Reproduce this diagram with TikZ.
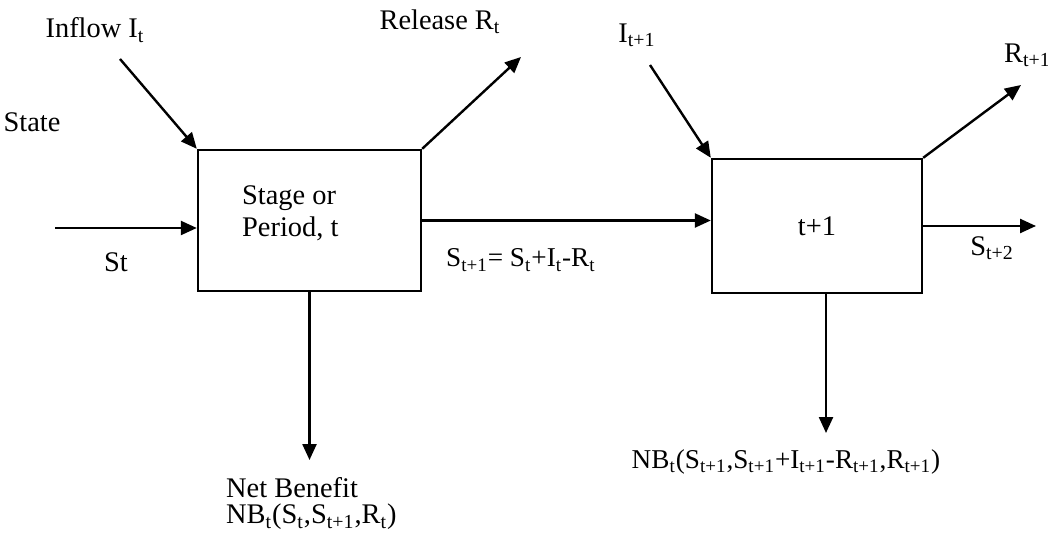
\documentclass[tikz,border=0pt]{standalone}
\usepackage{fontspec}
\setmainfont{Liberation Serif}
\usetikzlibrary{arrows.meta, positioning, calc}
\definecolor{cink}{HTML}{000000}
\tikzset{
  every picture/.style={font=\fontsize{14.2}{16}\selectfont, line width=1.2pt},
  box/.style 2 args={draw=cink, minimum width=#1, minimum height=#2, inner sep=0pt},
  arrow/.style={-{Triangle[length=8pt, width=7pt]}, draw=cink, line width=1.2pt},
  txt/.style={inner sep=0pt, text=cink},
}
\begin{document}
\begin{tikzpicture}[x=0.5pt, y=-0.5pt]
  \useasboundingbox (0,0) rectangle (1048,539);
  % ---- stage t
  \node[box={111.5pt}{70.5pt}] (stage) at (309.5,220.5) {};
  \node[txt, anchor=west, align=left] (stagetext) at (241,213) {Stage or\\Period, t};
  \node[txt] (state) at (32,122) {State};
  \node[txt] (inflow) at (95,30) {Inflow I\textsubscript{t}};
  \node[txt] (release) at (440,22) {Release R\textsubscript{t}};
  \node[txt] (st) at (116,262) {St};
  \coordinate (inflowstart) at (120,59);
  \coordinate (releaseend) at (521,57);
  \coordinate (stin) at (55,228);
  \draw[arrow] (inflowstart) -- (stage.north west);
  \draw[arrow] (stage.north east) -- (releaseend);
  \draw[arrow] (stin) -- (stin -| stage.west);
  % ---- stage t+1
  \node[box={105pt}{67pt}, txt] (next) at (817,226) {t+1};
  \node[txt, anchor=west, font=\fontsize{13.6}{16}\selectfont] (transition) at (445,260) {S\textsubscript{t+1}= S\textsubscript{t}+I\textsubscript{t}-R\textsubscript{t}};
  \draw[arrow] (stage.east) -- (stage.east -| next.west);
  \node[txt] (inflownext) at (637,35) {I\textsubscript{t+1}};
  \coordinate (inflownextstart) at (650,65);
  \draw[arrow] (inflownextstart) -- (next.north west);
  \node[txt, anchor=west] (releasenext) at (1003,55) {R\textsubscript{t+1}};
  \coordinate (releasenextend) at (1021,85);
  \draw[arrow] (next.north east) -- (releasenextend);
  \node[txt] (snext) at (992,248) {S\textsubscript{t+2}};
  \coordinate (snextend) at (1036,226);
  \draw[arrow] (next.east) -- (snextend);
  % ---- net benefits
  \coordinate (nbend) at (309.5,460);
  \draw[arrow] (stage.south) -- (nbend);
  \node[txt, anchor=west, align=left, font=\fontsize{14.2}{13}\selectfont] (nb) at (225,504) {Net Benefit\\NB\textsubscript{t}(S\textsubscript{t},S\textsubscript{t+1},R\textsubscript{t})};
  \coordinate (nbnextend) at (826,433);
  \draw[arrow] (nbnextend |- next.south) -- (nbnextend);
  \node[txt, font=\fontsize{13.6}{16}\selectfont] (nbnext) at (786,462) {NB\textsubscript{t}(S\textsubscript{t+1},S\textsubscript{t+1}+I\textsubscript{t+1}-R\textsubscript{t+1},R\textsubscript{t+1})};
\end{tikzpicture}
\end{document}
